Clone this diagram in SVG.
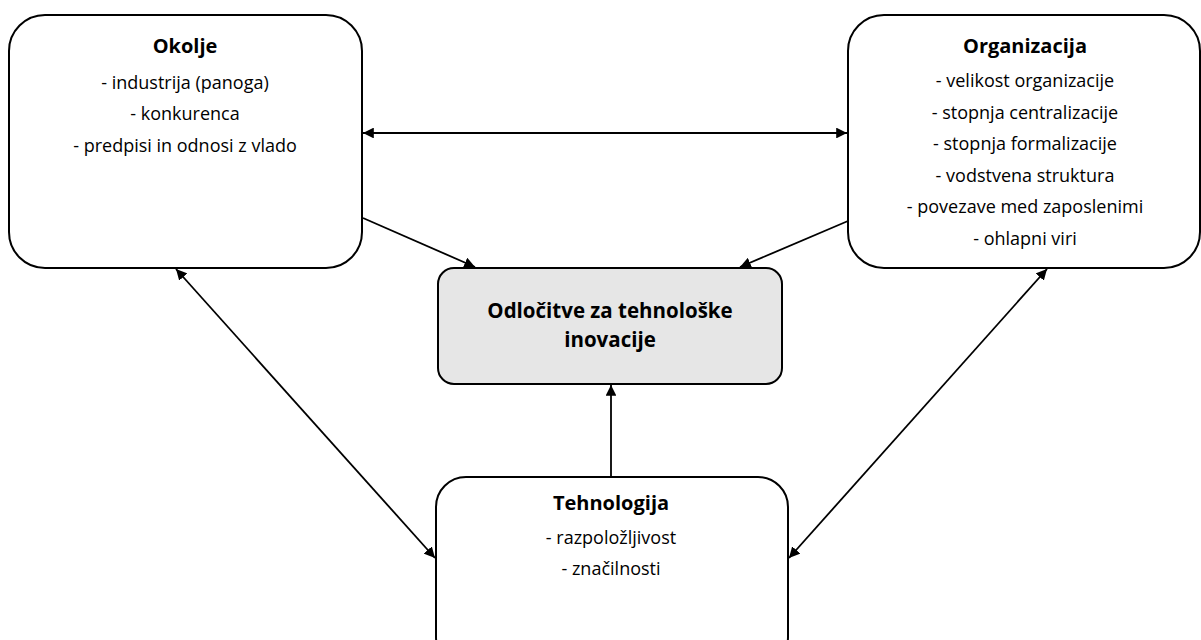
<svg xmlns="http://www.w3.org/2000/svg" width="1201" height="640" viewBox="0 0 1201 640">
<style>
.box{fill:#fff;stroke:#000;stroke-width:2}
.main{fill:#e6e6e6;stroke:#000;stroke-width:2}
.t{font-family:"Open Sans","Liberation Sans",sans-serif;font-size:18px;fill:#000;text-anchor:middle}
.h{font-family:"Open Sans","Liberation Sans",sans-serif;font-size:20px;font-weight:bold;fill:#000;text-anchor:middle}
.c{font-family:"Open Sans","Liberation Sans",sans-serif;font-size:20.5px;font-weight:bold;fill:#000;text-anchor:middle}
.ln{stroke:#000;stroke-width:1.8;fill:none}
</style>
<defs>
<marker id="ah" viewBox="0 0 10 10" refX="10" refY="5" markerWidth="6" markerHeight="6" orient="auto-start-reverse" markerUnits="strokeWidth">
<path d="M0,0 L10,5 L0,10 z" fill="#000"/>
</marker>
</defs>
<rect width="1201" height="640" fill="#fff"/>
<g id="okolje">
<rect class="box" x="9" y="15" width="353" height="253" rx="36" ry="36"/>
<text class="h" x="185" y="53">Okolje</text>
<text class="t" x="185" y="89">- industrija (panoga)</text>
<text class="t" x="185" y="120">- konkurenca</text>
<text class="t" x="185" y="152">- predpisi in odnosi z vlado</text>
</g>
<g id="organizacija">
<rect class="box" x="848" y="15" width="352" height="253" rx="36" ry="36"/>
<text class="h" x="1025" y="53">Organizacija</text>
<text class="t" x="1025" y="87">- velikost organizacije</text>
<text class="t" x="1025" y="119">- stopnja centralizacije</text>
<text class="t" x="1025" y="150">- stopnja formalizacije</text>
<text class="t" x="1025" y="182">- vodstvena struktura</text>
<text class="t" x="1025" y="213">- povezave med zaposlenimi</text>
<text class="t" x="1025" y="245">- ohlapni viri</text>
</g>
<g id="odlocitve">
<rect class="main" x="438" y="268" width="344" height="116" rx="16" ry="16"/>
<text class="c" x="610" y="318">Odločitve za tehnološke</text>
<text class="c" x="610" y="347">inovacije</text>
</g>
<g id="tehnologija">
<rect class="box" x="436" y="477" width="352" height="190" rx="30" ry="30"/>
<text class="h" x="611" y="510">Tehnologija</text>
<text class="t" x="611" y="544">- razpoložljivost</text>
<text class="t" x="611" y="575">- značilnosti</text>
</g>
<g id="connectors">
<line class="ln" x1="363" y1="133" x2="847" y2="133" marker-start="url(#ah)" marker-end="url(#ah)"/>
<line class="ln" x1="363" y1="218" x2="475" y2="267" marker-end="url(#ah)"/>
<line class="ln" x1="848" y1="221" x2="740" y2="267" marker-end="url(#ah)"/>
<line class="ln" x1="611" y1="476" x2="611" y2="385" marker-end="url(#ah)"/>
<line class="ln" x1="176" y1="269" x2="435" y2="558" marker-start="url(#ah)" marker-end="url(#ah)"/>
<line class="ln" x1="1047" y1="269" x2="789" y2="558" marker-start="url(#ah)" marker-end="url(#ah)"/>
</g>
</svg>
